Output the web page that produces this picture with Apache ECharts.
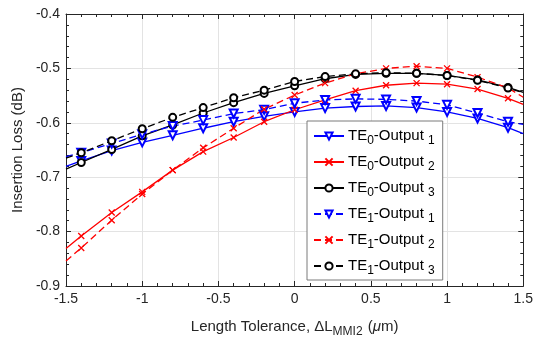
<!DOCTYPE html>
<html><head><meta charset="utf-8">
<script src="https://cdn.jsdelivr.net/npm/echarts@6/dist/echarts.min.js"></script>
<style>html,body{margin:0;padding:0;background:#fff}#c{width:536px;height:343px}</style>
</head><body><div id="c"></div>
<script>
// x positions (μm)
const xs = [-1.5,-1.4,-1.2,-1.0,-0.8,-0.6,-0.4,-0.2,0,0.2,0.4,0.6,0.8,1.0,1.2,1.4,1.5];
// Insertion loss (dB)
const te0Out1 = [-0.680,-0.670,-0.651,-0.636,-0.623,-0.610,-0.598,-0.588,-0.580,-0.573,-0.570,-0.569,-0.572,-0.580,-0.592,-0.609,-0.620];
const te0Out2 = [-0.831,-0.808,-0.765,-0.727,-0.687,-0.653,-0.627,-0.598,-0.576,-0.558,-0.541,-0.531,-0.527,-0.529,-0.538,-0.555,-0.566];
const te0Out3 = [-0.685,-0.673,-0.649,-0.624,-0.604,-0.582,-0.563,-0.546,-0.532,-0.519,-0.511,-0.509,-0.509,-0.513,-0.521,-0.535,-0.544];
const te1Out1 = [-0.662,-0.655,-0.638,-0.621,-0.606,-0.595,-0.583,-0.576,-0.564,-0.558,-0.556,-0.557,-0.560,-0.567,-0.582,-0.598,-0.603];
const te1Out2 = [-0.854,-0.830,-0.779,-0.731,-0.687,-0.646,-0.610,-0.575,-0.549,-0.527,-0.510,-0.500,-0.496,-0.500,-0.516,-0.536,-0.553];
const te1Out3 = [-0.665,-0.655,-0.633,-0.611,-0.590,-0.572,-0.554,-0.540,-0.524,-0.515,-0.510,-0.508,-0.509,-0.513,-0.522,-0.536,-0.545];
const seriesNames = ['TE0-Output1','TE0-Output2','TE0-Output3','TE1-Output1','TE1-Output2','TE1-Output3'];
const legendLabels = {
  'TE0-Output1':['0','1'],'TE0-Output2':['0','2'],'TE0-Output3':['0','3'],
  'TE1-Output1':['1','1'],'TE1-Output2':['1','2'],'TE1-Output3':['1','3']
};

const FONT = '"Liberation Sans", Arial, Helvetica, sans-serif';
const AX = '#262626';
function pts(ys){
  return xs.map((x,i)=>{
    const d = {value:[x, ys[i]]};
    if (i===0 || i===xs.length-1) d.symbol = 'none';
    return d;
  });
}
const xMark = 'path://M0,0L10,10M10,0L0,10';
function mk(name, ys, color, dashed, kind){
  let symbol, size, itemStyle;
  if (kind==='tri'){ symbol='emptyTriangle'; size=8; itemStyle={color:color, borderColor:color, borderWidth:1.2}; }
  else if (kind==='x'){ symbol=xMark; size=6; itemStyle={color:'rgba(0,0,0,0)', borderColor:color, borderWidth:1.3}; }
  else { symbol='emptyCircle'; size=7; itemStyle={color:color, borderColor:color, borderWidth:1.2}; }
  return {
    name, type:'line', data:pts(ys), symbol, symbolSize:size,
    symbolRotate: kind==='tri'?180:0,
    itemStyle, lineStyle:{color, width:1.3, type: dashed?[7,4]:'solid'},
    emphasis:{disabled:true}, animation:false, z:3
  };
}
const chart = echarts.init(document.getElementById('c'), null, {renderer:'canvas'});
const baseX = {type:'value', min:-1.5, max:1.5, interval:0.5};
const baseY = {type:'value', min:-0.9, max:-0.4, interval:0.1};
const line = {show:true, onZero:false, lineStyle:{color:AX, width:1}};
const tick = {show:true, inside:true, length:5, lineStyle:{color:AX}};
const minor = {show:true, splitNumber:5, length:3, lineStyle:{color:AX}};
chart.setOption({
  animation:false,
  backgroundColor:'#fff',
  grid:{left:66, right:7, top:14, bottom:57, containLabel:false},
  xAxis:[
    Object.assign({}, baseX, {
      position:'bottom',
      axisLine:line, axisTick:tick, minorTick:minor,
      splitLine:{show:true, lineStyle:{color:'#e3e3e3', width:1}},
      axisLabel:{color:AX, fontSize:14, fontFamily:FONT, margin:6},
      name:'Length Tolerance, \u0394L{sub|MMI2} ({mu|\u03bc}m)',
      nameLocation:'middle', nameGap:30,
      nameTextStyle:{color:AX, fontSize:15, fontFamily:FONT,
        rich:{sub:{fontSize:12, fontFamily:FONT, color:AX, padding:[10,1,0,0]},
              mu:{fontSize:15, fontFamily:FONT, color:AX, fontStyle:'italic'}}}
    }),
    Object.assign({}, baseX, {
      position:'top',
      axisLine:line, axisTick:tick, minorTick:minor,
      splitLine:{show:false}, axisLabel:{show:false}
    })
  ],
  yAxis:[
    Object.assign({}, baseY, {
      position:'left',
      axisLine:line, axisTick:tick, minorTick:minor,
      splitLine:{show:true, lineStyle:{color:'#e3e3e3', width:1}},
      axisLabel:{color:AX, fontSize:14, fontFamily:FONT, margin:6,
        formatter:v=>(Math.round(v*10)/10).toString()},
      name:'Insertion Loss (dB)', nameLocation:'middle', nameGap:40, nameRotate:90,
      nameTextStyle:{color:AX, fontSize:15, fontFamily:FONT}
    }),
    Object.assign({}, baseY, {
      position:'right',
      axisLine:line, axisTick:tick, minorTick:minor,
      splitLine:{show:false}, axisLabel:{show:false}
    })
  ],
  legend:{
    orient:'vertical', left:307, top:121, data:seriesNames,
    backgroundColor:'#fff', borderColor:'#7a7a7a', borderWidth:1,
    padding:[4,8,3,6], itemGap:4, itemWidth:30, itemHeight:9,
    selectedMode:false,
    formatter:n=>{const p=legendLabels[n]; return 'TE{sub|'+p[0]+'}-Output {sub|'+p[1]+'}';},
    textStyle:{color:'#000', fontSize:15, fontFamily:FONT, lineHeight:22, padding:[0,0,0,-1],
      rich:{sub:{fontSize:12, fontFamily:FONT, color:'#000', padding:[10,0,0,0]}}}
  },
  series:[
    mk(seriesNames[0], te0Out1, '#0000ff', false, 'tri'),
    mk(seriesNames[1], te0Out2, '#ff0000', false, 'x'),
    mk(seriesNames[2], te0Out3, '#000000', false, 'o'),
    mk(seriesNames[3], te1Out1, '#0000ff', true, 'tri'),
    mk(seriesNames[4], te1Out2, '#ff0000', true, 'x'),
    mk(seriesNames[5], te1Out3, '#000000', true, 'o')
  ]
});
</script></body></html>
